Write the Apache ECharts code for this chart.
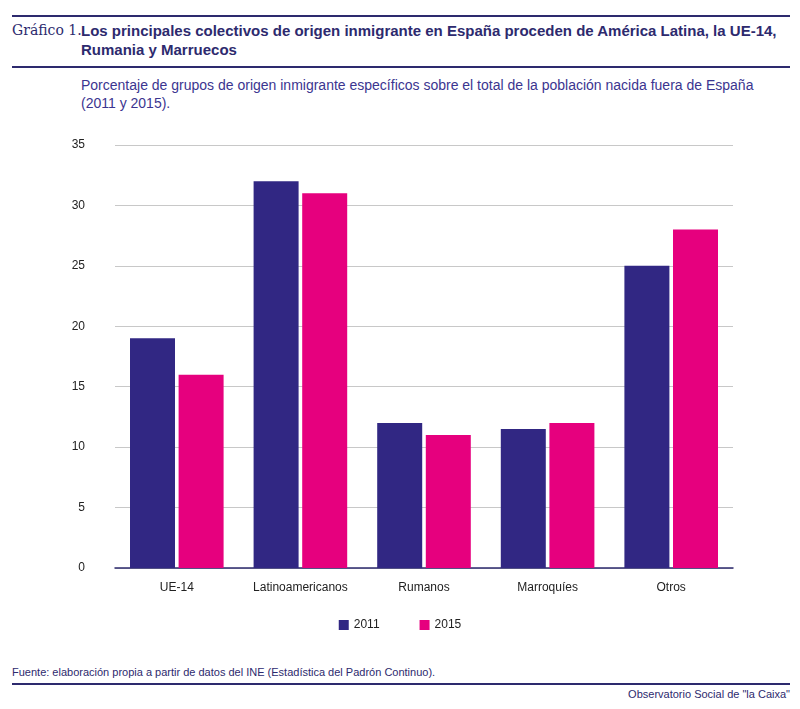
<!DOCTYPE html>
<html><head><meta charset="utf-8">
<script src="https://cdn.jsdelivr.net/npm/echarts@6/dist/echarts.min.js"></script>
<style>
body{margin:0;width:800px;height:709px;background:#fff;font-family:"Liberation Sans",Arial,sans-serif;position:relative;overflow:hidden}
.ln{position:absolute;left:12px;width:778px;background:#2d2a6e}
</style></head><body>
<div class="ln" style="top:15px;height:2px"></div>
<div style="position:absolute;left:12px;top:22px;font-family:'DejaVu Serif',serif;font-size:14px;color:#2d2a6e">Gráfico 1.</div>
<div style="position:absolute;left:81px;top:21px;width:700px;font-weight:bold;font-size:15px;line-height:19px;color:#2d2a6e">Los principales colectivos de origen inmigrante en España proceden de América Latina, la UE-14, Rumania y Marruecos</div>
<div class="ln" style="top:66px;height:2px"></div>
<div style="position:absolute;left:81px;top:76px;width:700px;font-size:14px;line-height:18px;color:#3b3590">Porcentaje de grupos de origen inmigrante específicos sobre el total de la población nacida fuera de España (2011 y 2015).</div>
<div id="c" style="position:absolute;left:0;top:120px;width:800px;height:530px"></div>
<div style="position:absolute;left:12px;top:666px;font-size:11px;color:#2d2a6e">Fuente: elaboración propia a partir de datos del INE (Estadística del Padrón Continuo).</div>
<div class="ln" style="top:683px;height:2px"></div>
<div style="position:absolute;right:10px;top:688px;font-size:11px;color:#2d2a6e">Observatorio Social de "la Caixa"</div>
<script>
const categories=["UE-14","Latinoamericanos","Rumanos","Marroquíes","Otros"];
const s2011=[19,32,12,11.5,25];
const s2015=[16,31,11,12,28];
const ch=echarts.init(document.getElementById('c'));
ch.setOption({
 animation:false,
 textStyle:{fontFamily:"Liberation Sans"},
 grid:{left:115,right:67,top:25,bottom:82},
 legend:{bottom:14,left:'center',itemWidth:10,itemHeight:10,itemGap:40,icon:'rect',textStyle:{fontSize:12,color:'#222'},data:['2011','2015']},
 xAxis:{type:'category',data:categories,axisTick:{show:false},axisLine:{lineStyle:{color:'#2d2a6e',width:1.5}},axisLabel:{color:'#222',fontSize:12,margin:14}},
 yAxis:{type:'value',min:0,max:35,interval:5,axisLabel:{color:'#222',fontSize:12,margin:30},splitLine:{lineStyle:{color:'#c8c8c8'}}},
 series:[
  {name:'2011',type:'bar',data:s2011,itemStyle:{color:'#312783'},barWidth:45,barGap:'8%'},
  {name:'2015',type:'bar',data:s2015,itemStyle:{color:'#e6007e'},barWidth:45}
 ]
});
</script></body></html>
